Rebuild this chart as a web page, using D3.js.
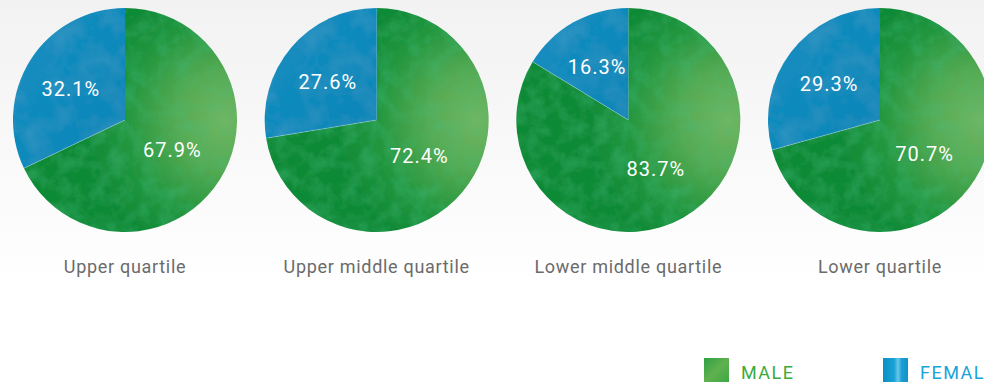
<!DOCTYPE html>
<html><head><meta charset="utf-8">
<script src="https://cdn.jsdelivr.net/npm/d3@7"></script>
<style>html,body{margin:0;padding:0;background:#fff;overflow:hidden}svg{display:block}</style>
</head><body>
<svg id="c" width="984" height="382"></svg>
<script>
const categories = ["Upper quartile", "Upper middle quartile", "Lower middle quartile", "Lower quartile"];
const male = [67.9, 72.4, 83.7, 70.7];
const female = [32.1, 27.6, 16.3, 29.3];
const seriesNames = ["MALE", "FEMALE"];

const W = 984, H = 382;
const svg = d3.select("#c");
const defs = svg.append("defs");

// background gradient
const bg = defs.append("linearGradient").attr("id","bg").attr("x1",0).attr("y1",0).attr("x2",0).attr("y2",1);
bg.append("stop").attr("offset","0%").attr("stop-color","#f2f2f2");
bg.append("stop").attr("offset","75%").attr("stop-color","#ffffff");
svg.append("rect").attr("width",W).attr("height",H).attr("fill","url(#bg)");

// green gradient in each pie's local coordinates
const gg = defs.append("radialGradient").attr("id","gGreen").attr("gradientUnits","userSpaceOnUse")
  .attr("cx",100).attr("cy",0).attr("r",140);
gg.append("stop").attr("offset","0%").attr("stop-color","#6fb663");
gg.append("stop").attr("offset","35%").attr("stop-color","#55aa52");
gg.append("stop").attr("offset","72%").attr("stop-color","#22963e");
gg.append("stop").attr("offset","100%").attr("stop-color","#0f8a36");
const gb = defs.append("linearGradient").attr("id","gBlue").attr("x1",0).attr("y1",0).attr("x2",1).attr("y2",1);
gb.append("stop").attr("offset","0%").attr("stop-color","#168ec0");
gb.append("stop").attr("offset","100%").attr("stop-color","#0a85b7");

// fine texture filter (green specks)
const f = defs.append("filter").attr("id","tex").attr("x","0").attr("y","0").attr("width","100%").attr("height","100%");
f.append("feTurbulence").attr("type","fractalNoise").attr("baseFrequency","0.06").attr("numOctaves",4).attr("seed",7).attr("result","n");
f.append("feColorMatrix").attr("in","n").attr("type","matrix")
  .attr("values","0 0 0 0 0.05  0 0 0 0 0.52  0 0 0 0 0.2  0 0 0 -2.2 1.35").attr("result","a");
f.append("feComposite").attr("in","a").attr("in2","SourceGraphic").attr("operator","in").attr("result","m");
f.append("feComponentTransfer").attr("in","m").attr("result","m2")
  .append("feFuncA").attr("type","linear").attr("slope",0.3);
f.append("feMerge").call(s=>{s.append("feMergeNode").attr("in","SourceGraphic");s.append("feMergeNode").attr("in","m2");});

// subtle texture for blue
const fb = defs.append("filter").attr("id","texB").attr("x","0").attr("y","0").attr("width","100%").attr("height","100%");
fb.append("feTurbulence").attr("type","fractalNoise").attr("baseFrequency","0.04").attr("numOctaves",3).attr("seed",3).attr("result","n");
fb.append("feColorMatrix").attr("in","n").attr("type","matrix")
  .attr("values","0 0 0 0 0.2  0 0 0 0 0.6  0 0 0 0 0.8  0 0 0 -1.5 0.9").attr("result","a");
fb.append("feComposite").attr("in","a").attr("in2","SourceGraphic").attr("operator","in").attr("result","m");
fb.append("feComponentTransfer").attr("in","m").attr("result","m2")
  .append("feFuncA").attr("type","linear").attr("slope",0.15);
fb.append("feMerge").call(s=>{s.append("feMergeNode").attr("in","SourceGraphic");s.append("feMergeNode").attr("in","m2");});

// legend swatch gradients
const lg = defs.append("linearGradient").attr("id","lGreen").attr("x1",0).attr("y1",0).attr("x2",1).attr("y2",1);
lg.append("stop").attr("offset","0%").attr("stop-color","#2ea043");
lg.append("stop").attr("offset","50%").attr("stop-color","#5fb14e");
lg.append("stop").attr("offset","100%").attr("stop-color","#3da845");
const lb = defs.append("linearGradient").attr("id","lBlue").attr("x1",0).attr("y1",0).attr("x2",1).attr("y2",0);
lb.append("stop").attr("offset","0%").attr("stop-color","#0b8fc4");
lb.append("stop").attr("offset","45%").attr("stop-color","#1aa3d6");
lb.append("stop").attr("offset","60%").attr("stop-color","#6cc6ea");
lb.append("stop").attr("offset","75%").attr("stop-color","#1a9ed3");
lb.append("stop").attr("offset","100%").attr("stop-color","#0f93c9");

const x = d3.scalePoint().domain(categories).range([125, 880]);
const R = 112, cy = 120;
const arc = d3.arc().innerRadius(0).outerRadius(R);
const arcF = d3.arc().innerRadius(64).outerRadius(64);
const arcM = d3.arc().innerRadius(56).outerRadius(56);
const pie = d3.pie().sort(null).value(d => d.v);

categories.forEach((c, i) => {
  const data = [{k:"male", v:male[i]}, {k:"female", v:female[i]}];
  const g = svg.append("g").attr("transform", `translate(${x(c)},${cy})`);
  const arcs = pie(data);
  g.selectAll("path").data(arcs).join("path")
    .attr("d", arc)
    .attr("fill", d => d.data.k === "male" ? "url(#gGreen)" : "url(#gBlue)")
    .attr("filter", d => d.data.k === "male" ? "url(#tex)" : "url(#texB)");
  g.selectAll("line").data(arcs.filter(d => d.data.k === "female")).join("line")
    .attr("x1", 0).attr("y1", 0)
    .attr("x2", d => R * Math.sin(d.startAngle)).attr("y2", d => -R * Math.cos(d.startAngle))
    .attr("stroke", "rgba(255,255,255,0.35)").attr("stroke-width", 0.8);
  g.selectAll("text").data(arcs).join("text")
    .attr("transform", d => {
      const p = d.data.k === "male" ? arcM.centroid(d) : arcF.centroid(d);
      return `translate(${p[0]},${p[1] + (d.data.k === "male" ? 0 : 3)})`;
    })
    .attr("text-anchor","middle").attr("dy","0.36em")
    .attr("fill","#fff").attr("font-family","Roboto, 'Noto Sans', sans-serif")
    .attr("font-size",20).attr("letter-spacing","1px")
    .text(d => d.data.v.toFixed(1) + "%");
  svg.append("text").attr("x", x(c)).attr("y", 273).attr("text-anchor","middle")
    .attr("fill","#6b6b6b").attr("font-family","Roboto, 'Noto Sans', sans-serif")
    .attr("font-size",18).attr("letter-spacing","0.7px").text(c);
});

// legend
const legend = [{name: seriesNames[0], fill:"url(#lGreen)", color:"#3aab3c", x:704},
                {name: seriesNames[1], fill:"url(#lBlue)", color:"#18a3dc", x:883}];
legend.forEach(l => {
  svg.append("rect").attr("x", l.x).attr("y", 358).attr("width", 25).attr("height", 24).attr("fill", l.fill);
  svg.append("text").attr("x", l.x + 37).attr("y", 379).attr("fill", l.color)
    .attr("font-family","Roboto, 'Noto Sans', sans-serif").attr("font-size",18).attr("letter-spacing","1.5px")
    .text(l.name);
});
</script>
</body></html>
